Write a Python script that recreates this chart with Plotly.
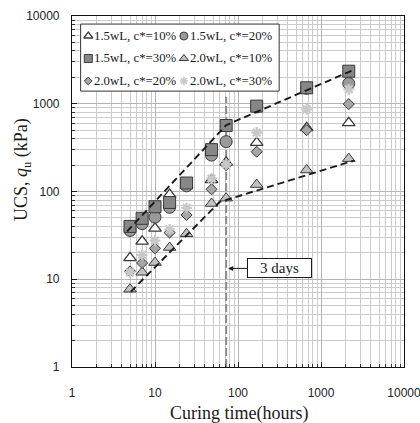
import math
import plotly.graph_objects as go

# ---------------- data ----------------
hours = [5, 7, 10, 15, 24, 48, 72, 168, 672, 2160]

series_names = [
    "1.5wL, c*=10%", "1.5wL, c*=20%", "1.5wL, c*=30%",
    "2.0wL, c*=10%", "2.0wL, c*=20%", "2.0wL, c*=30%",
]

ucs_15wl_10 = [17.5, 27, 38, 92, 118, 136, 215, 360, 530, 605]
ucs_15wl_20 = [36, 43, 51, 66, 116, 260, 370, 920, 1500, 1700]
ucs_15wl_30 = [40, 49.5, 67, 75, 125, 300, 565, 940, 1520, 2350]
ucs_20wl_10 = [7.7, 12, 15.5, 23, 33, 73, 84, 120, 176, 237]
ucs_20wl_20 = [12.3, 15.3, 22.5, 34, 54, 106, 200, 284, 500, 990]
ucs_20wl_30 = [12, 19, 27.5, 37, 65, 140, 205, 470, 865, 1460]

# trend lines (hours, kPa) drawn as broken dashed lines
trend_high_hours = [4.6, 72, 2570]
trend_high_ucs = [35, 570, 2470]
trend_low_hours = [5.1, 60, 2500]
trend_low_ucs = [7.2, 76, 225]

three_days = 72          # hours
three_days_top = 1200    # kPa, upper end of the marker line
arrow_ucs = 13.3         # kPa, height of the "3 days" call-out

x_tick_vals = [1, 10, 100, 1000, 10000]
x_tick_text = ["1", "10", "100", "1000", "10000"]
y_tick_vals = [1, 10, 100, 1000, 10000]
y_tick_text = ["1", "10", "100", "1000", "10000"]

# ---------------- styling ----------------
SERIF = "Liberation Serif, Times New Roman, serif"
SANS = "Liberation Sans, Arial, sans-serif"
EDGE = "#3a3a3a"

series_values = [ucs_15wl_10, ucs_15wl_20, ucs_15wl_30,
                 ucs_20wl_10, ucs_20wl_20, ucs_20wl_30]
series_styles = [
    dict(symbol="triangle-up", color="#ffffff", size=11, lw=1.3, lc=EDGE),
    dict(symbol="circle", color="#9a9a9a", size=12, lw=1, lc=EDGE),
    dict(symbol="square", color="#878787", size=12, lw=1, lc=EDGE),
    dict(symbol="triangle-up", color="#c2c2c2", size=11, lw=1, lc=EDGE),
    dict(symbol="diamond", color="#a6a6a6", size=8.5, lw=1, lc=EDGE),
    dict(symbol="asterisk-open", color="#c9c9c9", size=9, lw=2.3, lc="#c9c9c9"),
]

fig = go.Figure()

# 3-day marker line
fig.add_trace(go.Scatter(
    x=[three_days, three_days], y=[1, three_days_top], mode="lines",
    line=dict(color="#8c8c8c", width=2, dash="8px,3px"),
    showlegend=False, hoverinfo="skip"))

for name, vals, st in zip(series_names, series_values, series_styles):
    fig.add_trace(go.Scatter(
        x=hours, y=vals, mode="markers", name=name, showlegend=False,
        marker=dict(symbol=st["symbol"], size=st["size"], color=st["color"],
                    line=dict(color=st["lc"], width=st["lw"]))))

for tx, ty in [(trend_high_hours, trend_high_ucs), (trend_low_hours, trend_low_ucs)]:
    fig.add_trace(go.Scatter(
        x=tx, y=ty, mode="lines", showlegend=False, hoverinfo="skip",
        line=dict(color="#1a1a1a", width=1.9, dash="7px,4px")))

# ---------------- legend box (two columns) on an overlay frame ----------------
box_x0, box_x1, box_y0, box_y1 = 0.026, 0.624, 0.786, 0.977
col_sym_x = [0.049, 0.337]
col_txt_x = [0.059, 0.348]
row_y = [0.943, 0.879, 0.815]
legend_sizes = [8, 8, 8, 8, 6, 7]

fig.add_trace(go.Scatter(
    x=[box_x0, box_x1, box_x1, box_x0, box_x0],
    y=[box_y0, box_y0, box_y1, box_y1, box_y0],
    xaxis="x2", yaxis="y2", mode="lines", fill="toself",
    fillcolor="#ffffff", line=dict(color="#333333", width=1),
    showlegend=False, hoverinfo="skip"))

for i, (name, st) in enumerate(zip(series_names, series_styles)):
    col, row = i % 2, i // 2
    fig.add_trace(go.Scatter(
        x=[col_sym_x[col]], y=[row_y[row]], xaxis="x2", yaxis="y2",
        mode="markers", showlegend=False, hoverinfo="skip",
        marker=dict(symbol=st["symbol"], size=legend_sizes[i], color=st["color"],
                    line=dict(color=st["lc"], width=min(st["lw"], 1.6)))))
    fig.add_annotation(
        x=col_txt_x[col], y=row_y[row], xref="paper", yref="paper",
        text=name, showarrow=False, xanchor="left", yanchor="middle",
        font=dict(family=SERIF, size=12.8, color="#1a1a1a"))

# "3 days" call-out (annotation positions on log axes are given in log10 units)
fig.add_annotation(
    x=math.log10(three_days), y=math.log10(arrow_ucs), xref="x", yref="y",
    axref="pixel", ayref="pixel", ax=53, ay=0,
    text="3 days", showarrow=True, arrowhead=2, arrowsize=1,
    arrowwidth=1, arrowcolor="#1a1a1a", standoff=2,
    font=dict(family=SERIF, size=15, color="#1a1a1a"),
    bgcolor="#ffffff", bordercolor="#1a1a1a", borderwidth=1, borderpad=1,
    width=61, height=15.5)

# axis titles
fig.add_annotation(
    x=-0.1506, y=0.561, xref="paper", yref="paper", showarrow=False,
    text="UCS, <i>q</i><sub>u</sub> (kPa)", textangle=-90,
    xanchor="center", yanchor="middle",
    font=dict(family=SERIF, size=18, color="#1a1a1a"))
fig.add_annotation(
    x=0.5045, y=-0.132, xref="paper", yref="paper", showarrow=False,
    text="Curing time(hours)", xanchor="center", yanchor="middle",
    font=dict(family=SERIF, size=18, color="#1a1a1a"))

grid_major = "#b4b4b4"
grid_minor = "#cbcbcb"

axis_common = dict(
    type="log", range=[0, 4], automargin=False,
    ticks="inside", ticklen=5, tickcolor="#222222",
    showline=True, linecolor="#111111", linewidth=1.2, mirror=True,
    showgrid=True, gridcolor=grid_major, gridwidth=1,
    minor=dict(dtick="D1", ticks="inside", ticklen=3, tickcolor="#333333",
               showgrid=True, gridcolor=grid_minor, gridwidth=1),
    tickfont=dict(family=SANS, size=12, color="#222222"),
    ticklabeloverflow="allow", zeroline=False,
)

fig.update_layout(
    width=420, height=423,
    margin=dict(l=72, r=16, t=16, b=56, autoexpand=False),
    paper_bgcolor="#ffffff", plot_bgcolor="#ffffff",
    font=dict(family=SANS, size=12, color="#222222"),
    xaxis=dict(axis_common, tickvals=x_tick_vals, ticktext=x_tick_text,
               ticklabelstandoff=14),
    yaxis=dict(axis_common, tickvals=y_tick_vals, ticktext=y_tick_text,
               ticklabelstandoff=9),
    xaxis2=dict(overlaying="x", range=[0, 1], visible=False, fixedrange=True),
    yaxis2=dict(overlaying="y", range=[0, 1], visible=False, fixedrange=True),
)

fig.write_html("out.html")
